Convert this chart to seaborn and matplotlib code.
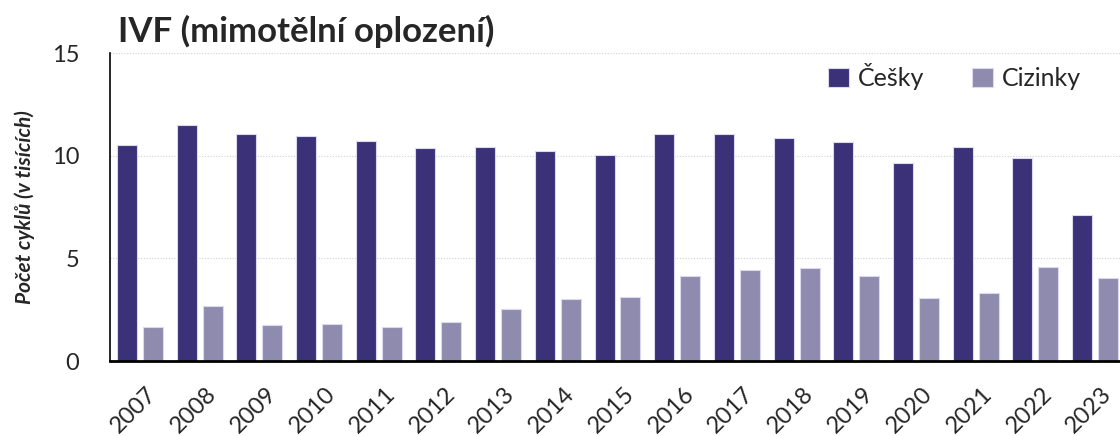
import matplotlib.pyplot as plt
import matplotlib.transforms as mtransforms
import pandas as pd
import seaborn as sns

years = [str(y) for y in range(2007, 2024)]
cesky = [10.50, 11.48, 11.07, 10.94, 10.70, 10.39, 10.44, 10.21, 10.03,
         11.07, 11.06, 10.88, 10.65, 9.66, 10.44, 9.89, 7.13]
cizinky = [1.66, 2.66, 1.77, 1.80, 1.64, 1.91, 2.52, 3.02, 3.12,
           4.12, 4.45, 4.52, 4.14, 3.05, 3.30, 4.58, 4.04]
series = ["Češky", "Cizinky"]
colors = ["#3a3178", "#8f8bae"]

df = pd.DataFrame({
    "rok": years * 2,
    "pocet": cesky + cizinky,
    "skupina": [series[0]] * len(years) + [series[1]] * len(years),
})

sns.set_style("white")
plt.rcParams["font.family"] = ["Lato", "DejaVu Sans"]

fig = plt.figure(figsize=(11.2, 4.36), dpi=100)
ax = fig.add_axes([110 / 1120, 75 / 436, 1015 / 1120, 308 / 436])

sns.barplot(df, x="rok", y="pocet", hue="skupina", palette=colors,
            saturation=1, width=0.87, gap=0.23, edgecolor="#dcd9ee",
            linewidth=0.8, ax=ax)

ax.set_ylim(0, 15)
ax.set_yticks([0, 5, 10, 15])
ax.yaxis.grid(True, linestyle=(0, (1, 1.5)), color="#d0d0d0", linewidth=0.8)
ax.set_axisbelow(True)
ax.tick_params(axis="both", length=0, labelsize=17)
ax.tick_params(axis="y", pad=22)
ax.tick_params(axis="x", pad=16)
# posun popisků roků trochu doprava
shift = mtransforms.ScaledTranslation(0.06, 0, fig.dpi_scale_trans)
for lbl in ax.get_xticklabels():
    lbl.set_rotation(45)
    lbl.set_ha("right")
    lbl.set_rotation_mode("anchor")
    lbl.set_transform(lbl.get_transform() + shift)
ax.set_xlabel("")
ax.set_ylabel("Počet cyklů (v tisících)", fontsize=15, fontweight="bold",
              fontstyle="italic", labelpad=12)

for side in ["top", "right"]:
    ax.spines[side].set_visible(False)
ax.spines["left"].set_color("black")
ax.spines["left"].set_linewidth(1.2)
ax.spines["bottom"].set_color("black")
ax.spines["bottom"].set_linewidth(2)

ax.legend(title=None, ncol=2, frameon=False, fontsize=18, loc="upper right",
          bbox_to_anchor=(0.979, 1.04), handlelength=0.85, handleheight=0.85,
          handletextpad=0.35, columnspacing=1.9)

fig.text(118 / 1120, 1 - 42 / 436, "IVF (mimotělní oplození)",
         fontsize=25, fontweight="bold")

fig.savefig("out.png", dpi=100)
